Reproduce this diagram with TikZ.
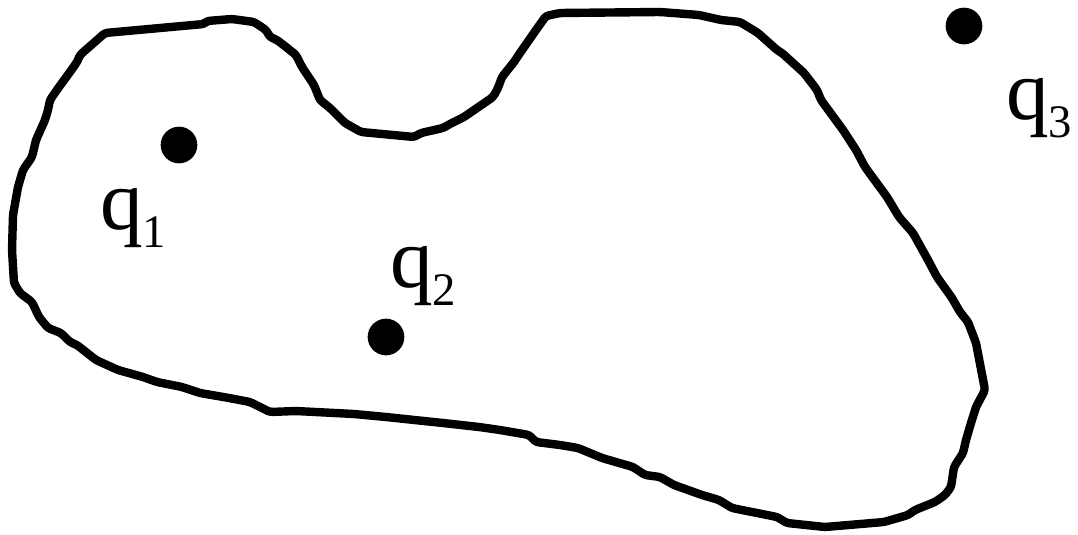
\documentclass[tikz,border=0pt]{standalone}
\usepackage{fontspec}
\setmainfont{Liberation Serif}
\usetikzlibrary{positioning}
\newcommand{\qsub}[1]{q\raisebox{-14pt}{\fontsize{35pt}{35pt}\selectfont #1}}

\begin{document}
\begin{tikzpicture}[
  x=0.75pt, y=-0.75pt,
  every node/.style={inner sep=0pt},
  blob/.style={draw=black, line width=6.3pt, line join=round, rounded corners=2pt},
  dot/.style={circle, fill=black, minimum size=27.5pt},
  qlabel/.style={anchor=base west, font=\fontsize{64pt}{64pt}\selectfont}
]
  \useasboundingbox (0,0) rectangle (1078,535);

  % Region outline
  \draw[blob] plot coordinates {
    (105,33) (204,24) (207,21) (232,19) (254,22) (266,30) (270,37) (277,40)
    (286,47) (296,55) (302,67) (314,85) (320,100) (330,108) (345,123) (361,132)
    (414,137) (421,133) (443,128) (450,124) (464,117) (493,97) (498,88) (502,77)
    (514,62) (520,53) (536,30) (546,16) (560,13) (660,12) (699,15) (721,20)
    (740,22) (758,33) (777,50) (782,53) (804,73) (817,90) (821,100) (843,130)
    (856,150) (865,167) (887,197) (899,217) (913,233) (928,260) (937,277) (952,298)
    (960,312) (968,322) (976,343) (985,390) (976,407) (971,423) (966,440) (963,453)
    (954,467) (951,487) (945,495) (935,502) (915,510) (908,515) (884,522) (825,527)
    (787,523) (777,517) (732,508) (719,500) (702,495) (674,485) (660,477) (645,475)
    (633,467) (602,458) (578,448) (560,445) (536,442) (529,435) (500,430) (479,427)
    (443,423) (386,417) (354,414) (296,411) (270,412) (250,402) (229,398) (200,393)
    (182,387) (157,382) (143,377) (118,370) (96,360) (77,345) (70,342) (61,333)
    (48,328) (39,317) (32,302) (20,293) (14,283) (12,250) (13,215) (18,187)
    (23,170) (32,157) (36,140) (45,120) (48,110) (50,100) (59,87) (70,72)
    (77,62) (80,55)
  } -- cycle;

  % Points
  \node[dot] (p1) at (179,145) {};
  \node[dot] (p2) at (386,337) {};
  \node[dot] (p3) at (964,26) {};

  % Labels
  \node[qlabel] (l1) at (100,229) {\qsub{1}};
  \node[qlabel] (l2) at (390,287) {\qsub{2}};
  \node[qlabel] (l3) at (1006,119) {\qsub{3}};

\end{tikzpicture}
\end{document}
